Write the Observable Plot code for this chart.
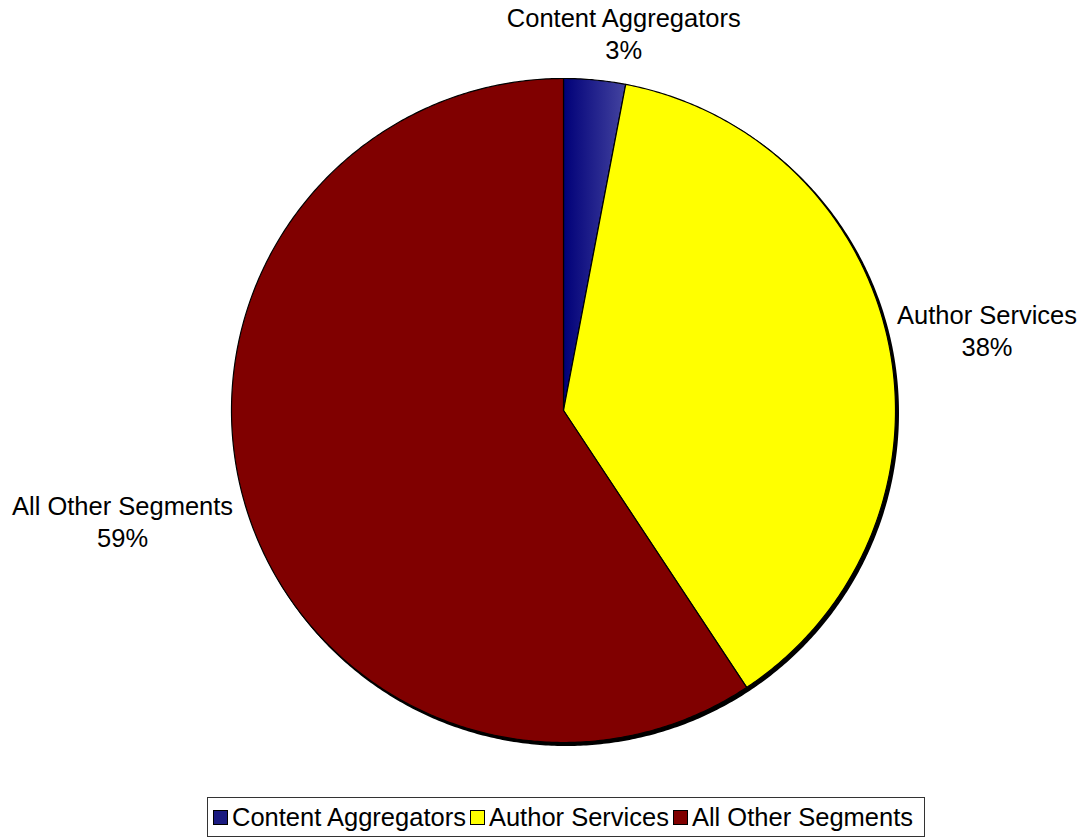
<!DOCTYPE html>
<html>
<head>
<meta charset="utf-8">
<script src="https://cdn.jsdelivr.net/npm/d3@7"></script>
<script src="https://cdn.jsdelivr.net/npm/@observablehq/plot@0.6"></script>
<style>
  html, body { margin: 0; padding: 0; background: #fff; }
  body { width: 1083px; font-family: "Liberation Sans", Arial, sans-serif; }
  #legend {
    position: absolute; left: 207px; top: 797px; width: 716px; height: 38px;
    border: 1px solid #333; box-sizing: content-box;
    display: flex; align-items: center; font-size: 25.5px; color: #000; white-space: nowrap;
  }
  #legend .sw { display: inline-block; width: 13px; height: 13px; border: 1px solid #000; margin: 0 4px 0 4px; }
  #legend .it { display: inline-flex; align-items: center; }
  #legend .it:first-child .sw { margin-left: 5px; }
</style>
</head>
<body>
<div id="chart"></div>
<div id="legend"></div>
<script>
const categories = ["Content Aggregators", "Author Services", "All Other Segments"];
const shares = [3.0, 37.7, 59.3];
const labels = ["3%", "38%", "59%"];
const colors = ["url(#caGrad)", "#FFFF00", "#800000"];
const legendColors = ["#1a1a80", "#FFFF00", "#800000"];

// slice geometry derived from the shares (clockwise from 12 o'clock)
const total = d3.sum(shares);
let acc = 0;
const slices = categories.map((c, i) => {
  const a0 = acc / total * 2 * Math.PI;
  acc += shares[i];
  const a1 = acc / total * 2 * Math.PI;
  return {cat: c, a0, a1, mid: (a0 + a1) / 2, label: labels[i], color: colors[i]};
});
function arcPoints(s) {
  const pts = [{x: 0, y: 0}];
  const n = Math.max(2, Math.ceil((s.a1 - s.a0) / (Math.PI / 360)));
  for (let k = 0; k <= n; k++) {
    const a = s.a0 + (s.a1 - s.a0) * k / n;
    pts.push({x: Math.sin(a), y: Math.cos(a)});
  }
  pts.push({x: 0, y: 0});
  return pts;
}
const disk = arcPoints({a0: 0, a1: 2 * Math.PI}).slice(1, -1);

const cx = 563, cy = 410, R = 332;
const font = "Liberation Sans, Arial, sans-serif";

const marks = [
  Plot.line(disk, {x: "x", y: "y", fill: "#000", stroke: "#000", strokeWidth: 2, dx: 2.5, dy: 2.5, curve: "linear-closed"})
];
slices.forEach(s => {
  marks.push(Plot.line(arcPoints(s), {x: "x", y: "y", fill: s.color, stroke: "#000", strokeWidth: 1.2, strokeLinejoin: "round"}));
});
const lab = (s, r) => ({x: Math.sin(s.mid) * r, y: Math.cos(s.mid) * r});
const txt = {fontSize: 25.5, lineHeight: 1.25, fill: "#000", fontFamily: font, textAnchor: "middle"};
marks.push(
  Plot.text([slices[0]], {x: d => lab(d, 1.0).x, y: d => lab(d, 1.0).y, text: d => d.cat + "\n" + d.label,
    lineAnchor: "bottom", dx: 29, dy: -21, ...txt}),
  Plot.text([slices[1]], {x: d => lab(d, 1.0).x, y: d => lab(d, 1.0).y, text: d => d.cat + "\n" + d.label,
    lineAnchor: "middle", dx: 98, dy: -15, ...txt}),
  Plot.text([slices[2]], {x: d => lab(d, 1.0).x, y: d => lab(d, 1.0).y, text: d => d.cat + "\n" + d.label,
    lineAnchor: "middle", dx: -123, dy: 15, ...txt})
);

const plot = Plot.plot({
  width: 1083, height: 790,
  margin: 0,
  x: {domain: [-1, 1], range: [cx - R, cx + R], axis: null},
  y: {domain: [-1, 1], range: [cy + R, cy - R], axis: null},
  style: {fontFamily: font, background: "#fff"},
  marks
});
const ns = "http://www.w3.org/2000/svg";
const defs = document.createElementNS(ns, "defs");
defs.innerHTML = '<linearGradient id="caGrad" x1="0" y1="0" x2="1" y2="0"><stop offset="0" stop-color="#000078"/><stop offset="1" stop-color="#4444a0"/></linearGradient>';
plot.insertBefore(defs, plot.firstChild);
document.getElementById("chart").appendChild(plot);

const legend = document.getElementById("legend");
categories.forEach((c, i) => {
  const it = document.createElement("span");
  it.className = "it";
  it.innerHTML = `<span class="sw" style="background:${legendColors[i]}"></span><span>${c}</span>`;
  legend.appendChild(it);
});
</script>
</body>
</html>
